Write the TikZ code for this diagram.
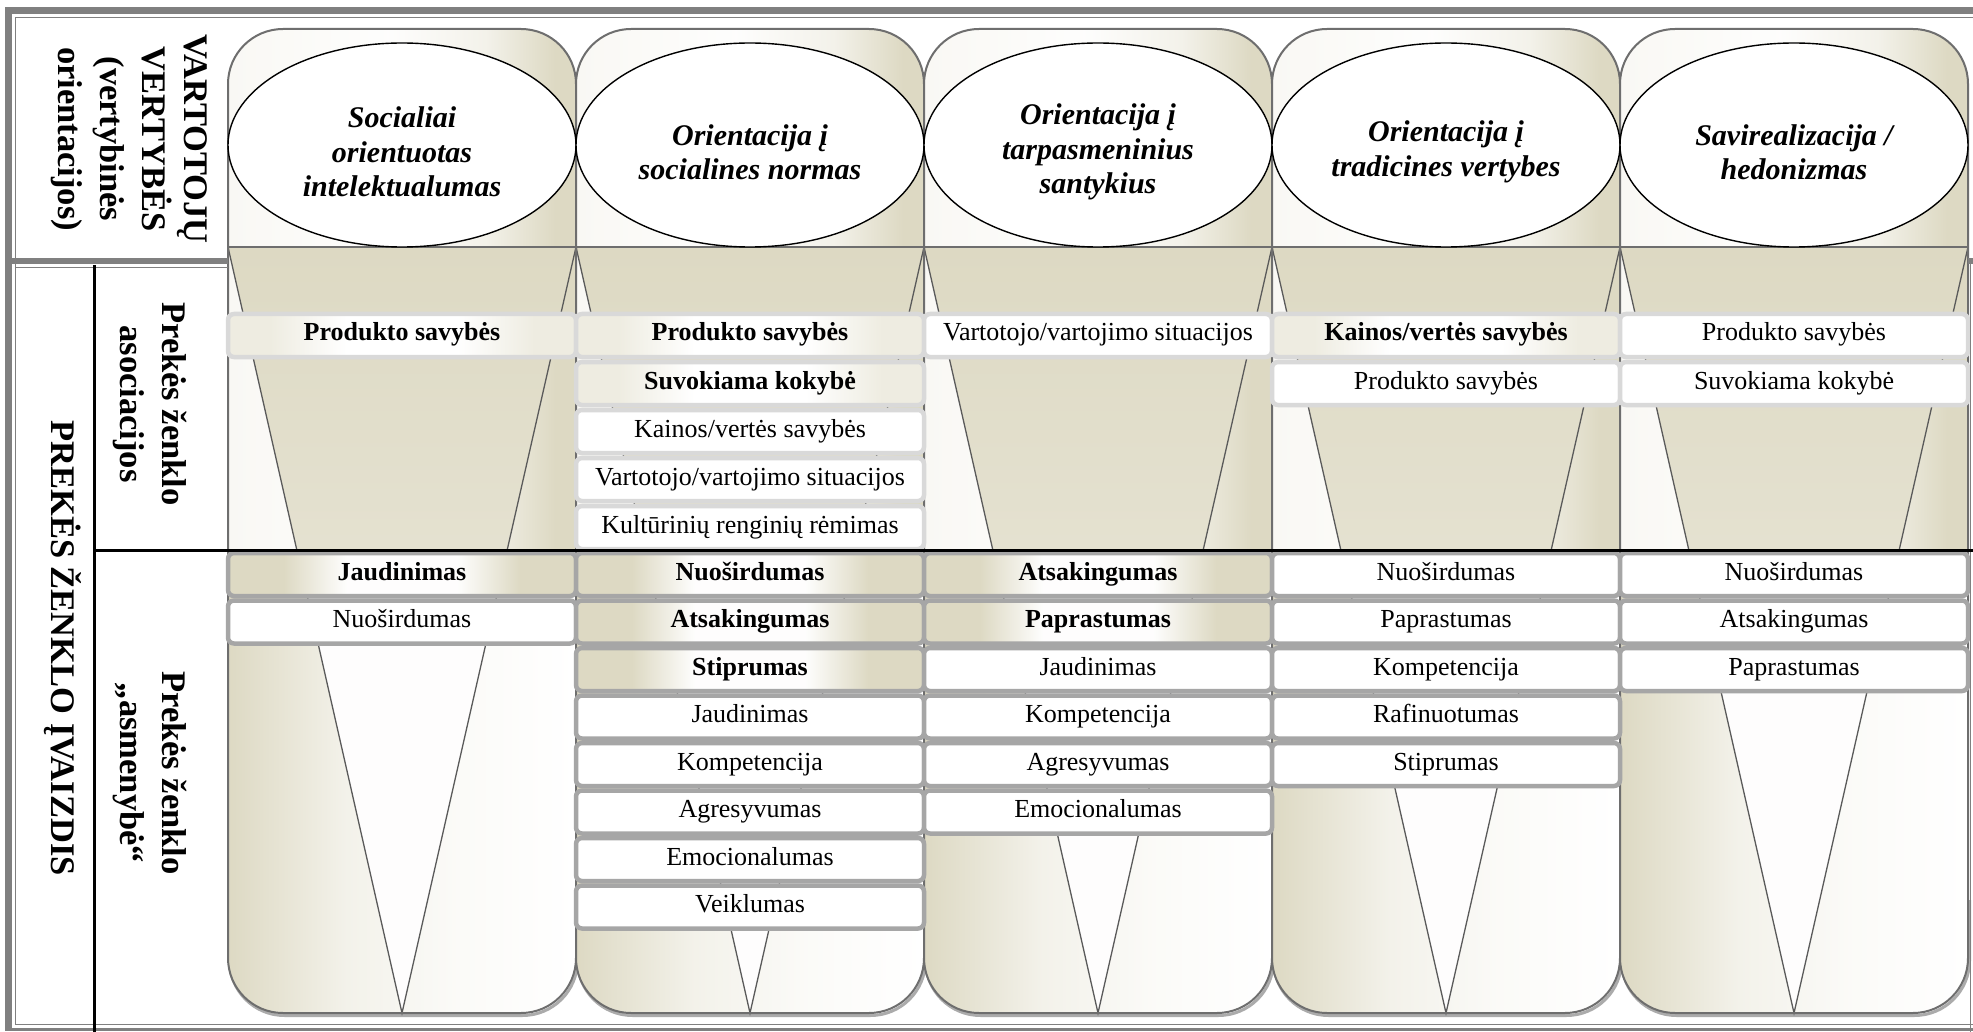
\documentclass[tikz,border=0pt]{standalone}
\usepackage{fontspec}
\setmainfont{Liberation Serif}
\usetikzlibrary{shapes.geometric}

% palette
\definecolor{tanmid}{HTML}{DDD9C3}
\definecolor{tanlight}{HTML}{EEECE1}
\definecolor{creamcol}{HTML}{F9F8F4}
\colorlet{tanwash}{white!65!tanmid}
\colorlet{tanfaint}{white!88!tanmid}
\colorlet{tanhint}{white!96!tanmid}
\definecolor{framegray}{HTML}{808080}
\definecolor{edgegray}{HTML}{6E6E6E}
\definecolor{funnelgray}{HTML}{5A5A5A}
\definecolor{shadowgray}{HTML}{ABABAB}
\definecolor{uborder}{HTML}{D9D9D9}
\definecolor{lborder}{HTML}{A6A6A6}

% column and box shadings
\pgfdeclarehorizontalshading{colupper}{100bp}{color(0bp)=(creamcol); color(25bp)=(creamcol); color(48bp)=(tanhint); color(62bp)=(tanwash); color(72bp)=(tanmid); color(100bp)=(tanmid)}
\pgfdeclarehorizontalshading{collower}{100bp}{color(0bp)=(tanmid); color(25bp)=(tanmid); color(42bp)=(tanwash); color(58bp)=(tanfaint); color(75bp)=(white); color(100bp)=(white)}
\pgfdeclarehorizontalshading{glowupper}{100bp}{color(0bp)=(tanlight); color(25bp)=(tanlight); color(31bp)=(tanlight); color(42bp)=(white); color(58bp)=(white); color(69bp)=(tanlight); color(75bp)=(tanlight); color(100bp)=(tanlight)}
\pgfdeclarehorizontalshading{glowlower}{100bp}{color(0bp)=(tanmid); color(25bp)=(tanmid); color(33bp)=(tanmid); color(42bp)=(tanhint); color(58bp)=(tanhint); color(67bp)=(tanmid); color(75bp)=(tanmid); color(100bp)=(tanmid)}

\newcommand\cellfont{\fontsize{26pt}{30pt}\selectfont}
\newcommand\valfont{\fontsize{30pt}{34.5pt}\selectfont\bfseries\itshape}
\newcommand\hdrfont{\fontsize{34.5pt}{42pt}\selectfont\bfseries}

\begin{document}
\begin{tikzpicture}[x=1pt, y=-1pt,
  colclip/.style={rounded corners=55pt},
  coledge/.style={draw=edgegray, line width=2pt, rounded corners=55pt},
  funnel/.style={draw=funnelgray, line width=1.3pt},
  valoval/.style={ellipse, draw=black, line width=1.4pt, fill=white,
    minimum width=348pt, minimum height=204pt, inner sep=0pt},
  valtext/.style={align=center, font=\valfont, inner sep=0pt},
  hdr/.style={align=center, font=\hdrfont, inner sep=0pt, rotate=-90},
  abox/.style={rectangle, rounded corners=6pt, minimum width=348pt,
    minimum height=43pt, inner sep=0pt, line width=4.5pt,
    text height=17pt, text depth=6pt, font=\cellfont, fill=white},
  ubox/.style={abox, draw=uborder},
  lbox/.style={abox, draw=lborder},
  uhi/.style={ubox, shade, shading=glowupper, font=\cellfont\bfseries},
  lhi/.style={lbox, shade, shading=glowlower, font=\cellfont\bfseries},
  rule/.style={draw=black, line width=3pt},
  frameband/.style={fill=framegray},
  frameline/.style={draw=framegray, line width=1.3pt},
]
\useasboundingbox (0,0) rectangle (1973,1032);
\fill[white] (0,0) rectangle (1973,1032);

% five value columns with their funnels
\foreach \i in {0,...,4}{
  \pgfmathsetmacro\L{228+348*\i}
  \pgfmathsetmacro\R{\L+348}
  \pgfmathsetmacro\C{\L+174}
  \pgfmathsetmacro\FL{\C-105.2}
  \pgfmathsetmacro\FR{\C+105.2}
  \draw[shadowgray, line width=3pt, rounded corners=55pt]
    (\L+1.5,900) -- (\L+1.5,1015.5) -- (\R+1.5,1015.5) -- (\R+1.5,900);
  \begin{scope}
    \clip[colclip] (\L,29) rectangle (\R,1013);
    \shade[shading=colupper] (\L,29) rectangle (\R,550);
    \shade[shading=collower] (\L,550) rectangle (\R,1013);
    \shade[top color=tanmid, bottom color=tanmid!78!white]
      (\L,247) -- (\R,247) -- (\FR,550) -- (\FL,550) -- cycle;
    \fill[tanhint] (\FL,550) -- (\FR,550) -- (\C,1013) -- cycle;
  \end{scope}
  \draw[funnel] (\L,247) -- (\C,1013) -- (\R,247);
  \draw[edgegray, line width=1.5pt] (\L,247) -- (\R,247);
  \draw[coledge] (\L,29) rectangle (\R,1013);
}

% consumer value ovals
\node[valoval] (val1) at (402,145) {};
\node[valoval] (val2) at (750,145) {};
\node[valoval] (val3) at (1098,145) {};
\node[valoval] (val4) at (1446,145) {};
\node[valoval] (val5) at (1794,145) {};
\node[valtext] (valtxt1) at ([yshift=-7pt]val1.center) {Socialiai\\orientuotas\\intelektualumas};
\node[valtext] (valtxt2) at ([yshift=-7pt]val2.center) {Orientacija į\\socialines normas};
\node[valtext] (valtxt3) at ([yshift=-7pt]val3.center) {Orientacija į\\tarpasmeninius\\santykius};
\node[valtext] (valtxt4) at ([yshift=-7pt]val4.center) {Orientacija į\\tradicines vertybes};
\node[valtext] (valtxt5) at ([yshift=-7pt]val5.center) {Savirealizacija /\\hedonizmas};

% brand associations
\node[uhi]  (a11) at (402,335.5)  {Produkto savybės};
\node[uhi]  (a21) at (750,335.5)  {Produkto savybės};
\node[uhi]  (a22) at (750,383.5)  {Suvokiama kokybė};
\node[ubox] (a23) at (750,431.5)  {Kainos/vertės savybės};
\node[ubox] (a24) at (750,479.5)  {Vartotojo/vartojimo situacijos};
\node[ubox] (a25) at (750,527.5)  {Kultūrinių renginių rėmimas};
\node[ubox] (a31) at (1098,335.5) {Vartotojo/vartojimo situacijos};
\node[uhi]  (a41) at (1446,335.5) {Kainos/vertės savybės};
\node[ubox] (a42) at (1446,383.5) {Produkto savybės};
\node[ubox] (a51) at (1794,335.5) {Produkto savybės};
\node[ubox] (a52) at (1794,383.5) {Suvokiama kokybė};

% brand personality
\node[lhi]  (p11) at (402,574.5) {Jaudinimas};
\node[lbox] (p12) at (402,622)   {Nuoširdumas};

\node[lhi]  (p21) at (750,574.5) {Nuoširdumas};
\node[lhi]  (p22) at (750,622)   {Atsakingumas};
\node[lhi]  (p23) at (750,669.5) {Stiprumas};
\node[lbox] (p24) at (750,717)   {Jaudinimas};
\node[lbox] (p25) at (750,764.5) {Kompetencija};
\node[lbox] (p26) at (750,812)   {Agresyvumas};
\node[lbox] (p27) at (750,859.5) {Emocionalumas};
\node[lbox] (p28) at (750,907)   {Veiklumas};

\node[lhi]  (p31) at (1098,574.5) {Atsakingumas};
\node[lhi]  (p32) at (1098,622)   {Paprastumas};
\node[lbox] (p33) at (1098,669.5) {Jaudinimas};
\node[lbox] (p34) at (1098,717)   {Kompetencija};
\node[lbox] (p35) at (1098,764.5) {Agresyvumas};
\node[lbox] (p36) at (1098,812)   {Emocionalumas};

\node[lbox] (p41) at (1446,574.5) {Nuoširdumas};
\node[lbox] (p42) at (1446,622)   {Paprastumas};
\node[lbox] (p43) at (1446,669.5) {Kompetencija};
\node[lbox] (p44) at (1446,717)   {Rafinuotumas};
\node[lbox] (p45) at (1446,764.5) {Stiprumas};

\node[lbox] (p51) at (1794,574.5) {Nuoširdumas};
\node[lbox] (p52) at (1794,622)   {Atsakingumas};
\node[lbox] (p53) at (1794,669.5) {Paprastumas};

% table frame
\fill[frameband] (5,7) rectangle (1973,14);
\fill[frameband] (5,7) rectangle (12,1031);
\fill[frameband] (5,1027.5) rectangle (1973,1031);
\draw[frameline] (15.5,1024.5) -- (15.5,17.5) -- (1973,17.5);
\draw[frameline] (15.5,1024.5) -- (1973,1024.5);
\fill[frameband] (5,258) rectangle (228,264);
\draw[frameline] (15.5,267.5) -- (228,267.5);
\fill[frameband] (1968,258) rectangle (1973,264);
\draw[frameline] (1970.5,258) -- (1970.5,1032);

% table rules
\draw[rule] (94,265) -- (94,1032);
\draw[rule] (94,550) -- (1973,550);

% row headers
\node[hdr] (hdrvalues) at (129,139) {VARTOTOJŲ\\VERTYBĖS\\(vertybinės\\orientacijos)};
\node[hdr] (hdrimage) at (63,648) {PREKĖS ŽENKLO ĮVAIZDIS};
\node[hdr] (hdrassoc) at (150,404) {Prekės ženklo\\asociacijos};
\node[hdr] (hdrperson) at (150,773) {Prekės ženklo\\„asmenybė“};
\end{tikzpicture}
\end{document}
